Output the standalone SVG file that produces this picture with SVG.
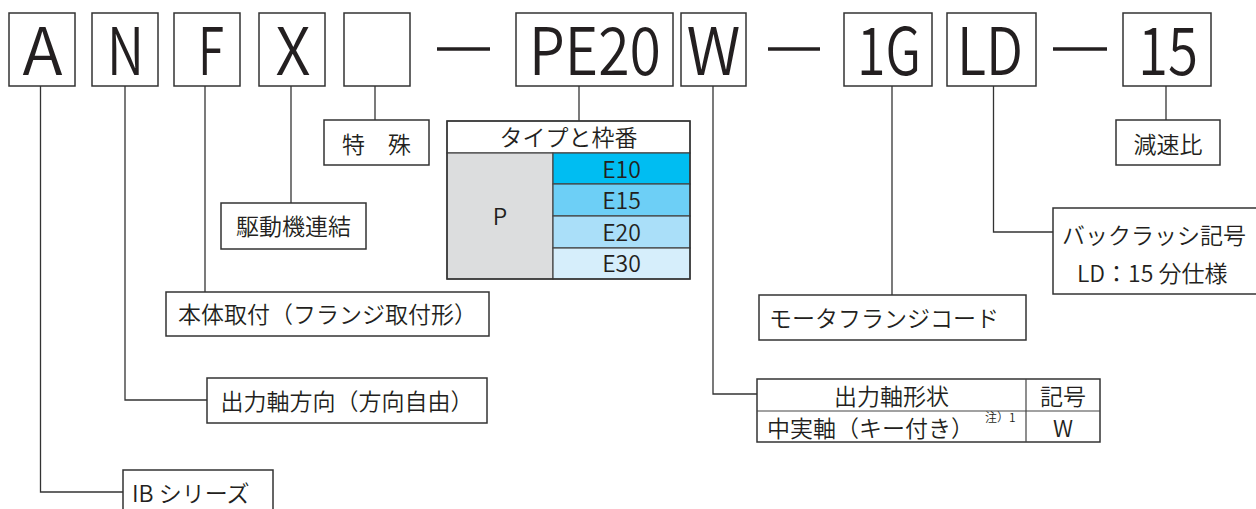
<svg xmlns="http://www.w3.org/2000/svg" width="1256" height="509" viewBox="0 0 1256 509">
<style>
.bx{fill:#fff;stroke:#333;stroke-width:1.5}
.big{font-family:"Noto Sans CJK JP","Noto Sans",sans-serif;font-weight:350;font-size:66px;fill:#231f20;text-anchor:middle}
.t{font-family:"Noto Sans CJK JP","Noto Sans",sans-serif;font-weight:350;font-size:23px;fill:#231f20}
.c{text-anchor:middle}
.ln{fill:none;stroke:#333;stroke-width:1.3}
.dash{stroke:#231f20;stroke-width:3.5}
.cell{stroke:#444;stroke-width:1.2}
</style>
<rect width="1256" height="509" fill="#fff"/>
<g id="code">
<g id="c-A"><rect class="bx" x="9" y="13" width="66" height="73"/><text class="big" x="42.5" y="75" textLength="40" lengthAdjust="spacingAndGlyphs">A</text></g>
<g id="c-N"><rect class="bx" x="92" y="13" width="66" height="73"/><text class="big" x="125.5" y="75" textLength="37" lengthAdjust="spacingAndGlyphs">N</text></g>
<g id="c-F"><rect class="bx" x="174" y="13" width="66" height="73"/><text class="big" x="211" y="75" textLength="26" lengthAdjust="spacingAndGlyphs">F</text></g>
<g id="c-X"><rect class="bx" x="259" y="13" width="66" height="73"/><text class="big" x="293" y="75" textLength="35" lengthAdjust="spacingAndGlyphs">X</text></g>
<g id="c-blank"><rect class="bx" x="344" y="13" width="66" height="73"/></g>
<line class="dash" x1="437" y1="49" x2="490" y2="49"/>
<g id="c-PE20"><rect class="bx" x="516" y="13" width="157" height="73"/><text class="big" x="595" y="75" textLength="132" lengthAdjust="spacingAndGlyphs">PE20</text></g>
<g id="c-W"><rect class="bx" x="681" y="13" width="65" height="73"/><text class="big" x="713.5" y="75" textLength="54" lengthAdjust="spacingAndGlyphs">W</text></g>
<line class="dash" x1="768" y1="49" x2="820" y2="49"/>
<g id="c-1G"><rect class="bx" x="844" y="13" width="88" height="73"/><text class="big" x="889" y="75" textLength="64" lengthAdjust="spacingAndGlyphs">1G</text></g>
<g id="c-LD"><rect class="bx" x="947" y="13" width="89" height="73"/><text class="big" x="990" y="75" textLength="66" lengthAdjust="spacingAndGlyphs">LD</text></g>
<line class="dash" x1="1053" y1="49" x2="1107" y2="49"/>
<g id="c-15"><rect class="bx" x="1123" y="13" width="88" height="73"/><text class="big" x="1168" y="75" textLength="60" lengthAdjust="spacingAndGlyphs">15</text></g>
</g>
<g id="connectors">
<polyline class="ln" points="40.5,86 40.5,492 123,492"/>
<polyline class="ln" points="125,86 125,400 207,400"/>
<line class="ln" x1="205" y1="86" x2="205" y2="292"/>
<line class="ln" x1="291" y1="86" x2="291" y2="203"/>
<line class="ln" x1="375" y1="86" x2="375" y2="120"/>
<line class="ln" x1="579" y1="86" x2="579" y2="121"/>
<polyline class="ln" points="713,86 713,394 757,394"/>
<line class="ln" x1="892" y1="86" x2="892" y2="295"/>
<polyline class="ln" points="993.5,86 993.5,232 1053,232"/>
<line class="ln" x1="1166" y1="86" x2="1166" y2="120"/>
</g>
<g id="n-tokushu"><rect class="bx" x="324" y="120" width="105" height="45"/><text class="t c" x="376.5" y="153">特　殊</text></g>
<g id="n-kudou"><rect class="bx" x="221" y="203" width="145" height="46"/><text class="t c" x="293.5" y="235">駆動機連結</text></g>
<g id="n-hontai"><rect class="bx" x="166" y="292" width="323" height="44"/><text class="t c" x="327.5" y="323">本体取付（フランジ取付形）</text></g>
<g id="n-shutsuryoku"><rect class="bx" x="207" y="378" width="280" height="45"/><text class="t c" x="347" y="410">出力軸方向（方向自由）</text></g>
<g id="n-ib"><rect class="bx" x="123" y="470" width="150" height="45"/><text class="t" x="132" y="502">IB シリーズ</text></g>
<g id="n-type">
<rect x="447" y="121" width="243" height="32" fill="#fff" class="cell"/>
<rect x="447" y="153" width="106" height="126" fill="#dcddde" class="cell"/>
<rect x="553" y="153" width="137" height="31" fill="#00bdf2" class="cell"/>
<rect x="553" y="184" width="137" height="32" fill="#6dcff6" class="cell"/>
<rect x="553" y="216" width="137" height="32" fill="#aadff9" class="cell"/>
<rect x="553" y="248" width="137" height="31" fill="#d6eefb" class="cell"/>
<rect x="447" y="121" width="243" height="158" fill="none" stroke="#333" stroke-width="1.5"/>
<text class="t c" x="568.5" y="146">タイプと枠番</text>
<text class="t c" x="500" y="225">P</text>
<text class="t c" x="621.5" y="178">E10</text>
<text class="t c" x="621.5" y="209">E15</text>
<text class="t c" x="621.5" y="241">E20</text>
<text class="t c" x="621.5" y="272">E30</text>
</g>
<g id="n-motor"><rect class="bx" x="759" y="295" width="267" height="45"/><text class="t" x="769" y="327">モータフランジコード</text></g>
<g id="n-backlash"><rect class="bx" x="1053" y="208" width="210" height="86"/><text class="t" x="1062" y="244">バックラッシ記号</text><text class="t" x="1077" y="282">LD：15 分仕様</text></g>
<g id="n-ratio"><rect class="bx" x="1116" y="120" width="104" height="45"/><text class="t c" x="1168" y="153">減速比</text></g>
<g id="n-shaft">
<rect x="757" y="379" width="343" height="63" fill="#fff" stroke="#333" stroke-width="1.5"/>
<line class="cell" x1="757" y1="411" x2="1100" y2="411"/>
<line class="cell" x1="1026" y1="379" x2="1026" y2="442"/>
<text class="t c" x="891.5" y="405">出力軸形状</text>
<text class="t c" x="1063" y="405">記号</text>
<text class="t" x="767" y="437">中実軸（キー付き）</text>
<text class="t" x="985" y="422" style="font-size:12px">注）1</text>
<text class="t c" x="1063" y="437">W</text>
</g>
</svg>
